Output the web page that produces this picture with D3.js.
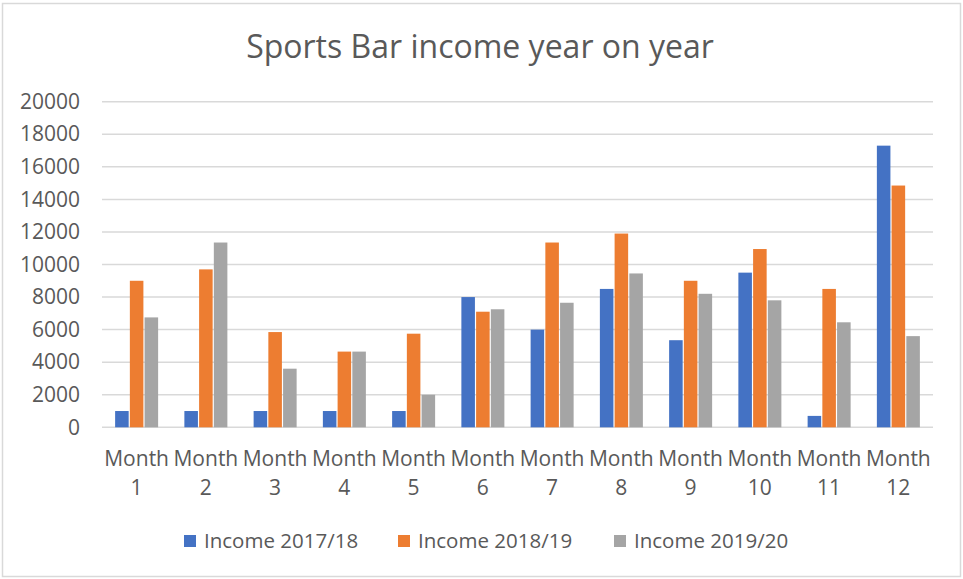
<!DOCTYPE html>
<html>
<head>
<meta charset="utf-8">
<script src="https://cdn.jsdelivr.net/npm/d3@7"></script>
<style>
  html, body { margin: 0; padding: 0; background: #fff; }
  svg { display: block; font-family: "Open Sans", sans-serif; }
</style>
</head>
<body>
<svg id="chart" width="963" height="579"></svg>
<script>
const title = "Sports Bar income year on year";
const months = ["Month 1","Month 2","Month 3","Month 4","Month 5","Month 6","Month 7","Month 8","Month 9","Month 10","Month 11","Month 12"];
const seriesNames = ["Income 2017/18","Income 2018/19","Income 2019/20"];
const income1718 = [1000, 1000, 1000, 1000, 1000, 8000, 6000, 8500, 5350, 9500, 700, 17300];
const income1819 = [9000, 9700, 5850, 4650, 5750, 7100, 11350, 11900, 9000, 10950, 8500, 14850];
const income1920 = [6750, 11350, 3600, 4650, 2000, 7250, 7650, 9450, 8200, 7800, 6450, 5600];
const yTicks = [0, 2000, 4000, 6000, 8000, 10000, 12000, 14000, 16000, 18000, 20000];
const colors = ["#4472C4", "#ED7D31", "#A5A5A5"];

const series = [income1718, income1819, income1920];
const svg = d3.select("#chart");
const W = 963, H = 579;
const plot = {left: 102, right: 933, top: 101.7, bottom: 427.3};
const textColor = "#595959";

// outer border
svg.append("rect").attr("x", 2.5).attr("y", 3.5).attr("width", W - 5).attr("height", H - 6)
  .attr("fill", "#fff").attr("stroke", "#D9D9D9").attr("stroke-width", 1.5);

// title
svg.append("text").attr("x", 480).attr("y", 58).attr("text-anchor", "middle")
  .attr("fill", textColor).attr("font-size", 32).text(title);

const y = d3.scaleLinear().domain([0, 20000]).range([plot.bottom, plot.top]);
const x0 = d3.scaleBand().domain(months).range([plot.left, plot.right]).paddingInner(0).paddingOuter(0);
const groupW = 43;
const x1 = d3.scaleBand().domain(d3.range(series.length)).range([-groupW / 2, groupW / 2]).paddingInner(0.08);

// gridlines
svg.append("g").selectAll("line").data(yTicks).join("line")
  .attr("x1", plot.left).attr("x2", plot.right)
  .attr("y1", d => y(d)).attr("y2", d => y(d))
  .attr("stroke", "#D9D9D9").attr("stroke-width", 1.5);

// y axis labels
const yAxis = d3.axisLeft(y).tickValues(yTicks).tickSize(0).tickPadding(0).tickFormat(d3.format("d"));
const yg = svg.append("g").attr("transform", "translate(80,0)").call(yAxis);
yg.select(".domain").remove();
yg.selectAll("text").attr("fill", textColor).attr("font-size", 21).attr("font-family", "Open Sans, sans-serif");

// bars
const groups = svg.append("g").selectAll("g").data(months).join("g")
  .attr("transform", d => `translate(${x0(d) + x0.bandwidth() / 2},0)`);
groups.selectAll("rect").data((d, i) => series.map((s, k) => ({k, v: s[i]}))).join("rect")
  .attr("x", d => x1(d.k)).attr("width", x1.bandwidth())
  .attr("y", d => y(d.v)).attr("height", d => y(0) - y(d.v))
  .attr("fill", d => colors[d.k]);

// x labels
const xl = svg.append("g").selectAll("text").data(months).join("text")
  .attr("x", d => x0(d) + x0.bandwidth() / 2).attr("y", 466)
  .attr("text-anchor", "middle").attr("fill", textColor).attr("font-size", 21);
xl.append("tspan").attr("x", d => x0(d) + x0.bandwidth() / 2).attr("dy", 0).text(d => d.split(" ")[0]);
xl.append("tspan").attr("x", d => x0(d) + x0.bandwidth() / 2).attr("dy", 29).text(d => d.split(" ")[1]);

// legend
const legendX = [184, 398, 614];
const lg = svg.append("g").selectAll("g").data(seriesNames).join("g")
  .attr("transform", (d, i) => `translate(${legendX[i]},535)`);
lg.append("rect").attr("width", 12).attr("height", 12).attr("fill", (d, i) => colors[i]);
lg.append("text").attr("x", 20).attr("y", 13).attr("fill", textColor).attr("font-size", 20.5).text(d => d);
</script>
</body>
</html>
